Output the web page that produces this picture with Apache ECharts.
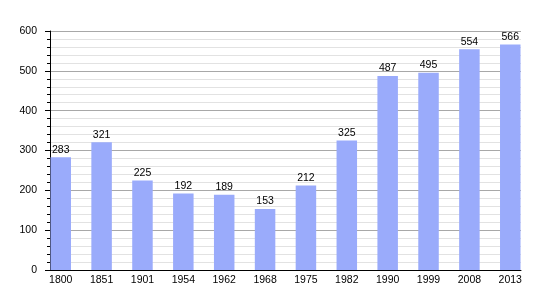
<!DOCTYPE html>
<html><head><meta charset="utf-8">
<script src="https://cdn.jsdelivr.net/npm/echarts@6/dist/echarts.min.js"></script>
<style>html,body{margin:0;padding:0;background:#fff}#c{width:550px;height:300px}</style>
</head><body><div id="c"></div>
<script>
const categories = ['1800','1851','1901','1954','1962','1968','1975','1982','1990','1999','2008','2013'];
const population = [283,321,225,192,189,153,212,325,487,495,554,566];
const yTicks = [0,100,200,300,400,500,600];

const chart = echarts.init(document.getElementById('c'), null, {renderer:'canvas'});
const font = 'Liberation Sans, Arial, sans-serif';
chart.setOption({
  animation:false,
  grid:[
    {left:50, right:29, top:31, bottom:30},
    {left:40.3, right:19.3, top:31, bottom:30}
  ],
  xAxis:[
    {gridIndex:0, type:'category', data:categories, show:true,
     axisLine:{show:true, lineStyle:{color:'#000', width:1}},
     axisTick:{show:false}, axisLabel:{show:false}, splitLine:{show:false}},
    {gridIndex:1, type:'category', data:categories, boundaryGap:true,
     axisLine:{show:false}, axisTick:{show:false},
     axisLabel:{show:true, color:'#000', fontSize:10.5, fontFamily:font, margin:5, interval:0}}
  ],
  yAxis:[
    {gridIndex:0, type:'value', min:yTicks[0], max:yTicks[yTicks.length-1], interval:100,
     axisLine:{show:true, lineStyle:{color:'#000', width:1}},
     axisTick:{show:true, length:5, lineStyle:{color:'#000'}},
     minorTick:{show:true, splitNumber:5, length:3, lineStyle:{color:'#000'}},
     axisLabel:{color:'#000', fontSize:10.5, fontFamily:font, margin:13},
     splitLine:{show:true, lineStyle:{color:'#a8a8a8', width:1}},
     minorSplitLine:{show:true, lineStyle:{color:'#e2e2e2', width:1}}},
    {gridIndex:1, type:'value', min:yTicks[0], max:yTicks[yTicks.length-1], show:false, splitLine:{show:false}}
  ],
  series:[{
    type:'bar', xAxisIndex:1, yAxisIndex:1, data:population, barWidth:20.5,
    itemStyle:{color:'#9aabfb'},
    label:{show:true, position:'top', distance:2, color:'#000', fontSize:10.5, fontFamily:font}
  }]
});
</script></body></html>
